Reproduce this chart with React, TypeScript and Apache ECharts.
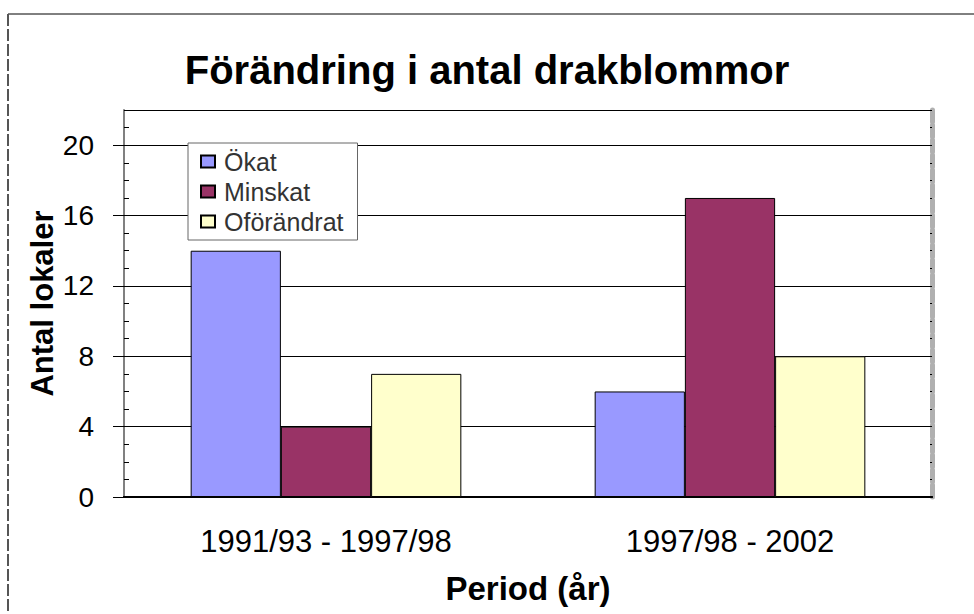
import React, { useEffect, useRef } from "react";
import * as echarts from "echarts";

const categories = ["1991/93 - 1997/98", "1997/98 - 2002"];
const seriesNames = ["Ökat", "Minskat", "Oförändrat"];
const okat = [14, 6];
const minskat = [4, 17];
const oforandrat = [7, 8];
const seriesColors = ["#9999FF", "#993366", "#FFFFCC"];
const yTicks = [0, 4, 8, 12, 16, 20];

const FONT = "'Liberation Sans', Arial, sans-serif";

export default function App() {
  const ref = useRef<HTMLDivElement>(null);
  useEffect(() => {
    if (!ref.current) return;
    const chart = echarts.init(ref.current, undefined, { renderer: "svg" });
    const values = [okat, minskat, oforandrat];
    const grid = { left: 124, top: 110, width: 808, height: 387 };
    chart.setOption({
      animation: false,
      backgroundColor: "#ffffff",
      textStyle: { fontFamily: FONT },
      title: {
        text: "Förändring i antal drakblommor",
        left: "center",
        top: 45,
        textStyle: { fontFamily: FONT, fontSize: 40, fontWeight: "bold", color: "#000" },
      },
      legend: {
        orient: "vertical",
        left: 188,
        top: 143,
        itemWidth: 14,
        itemHeight: 12,
        itemGap: 5,
        padding: [6, 14, 6, 12],
        borderColor: "#666",
        borderWidth: 1,
        backgroundColor: "#fff",
        icon: "rect",
        textStyle: { fontFamily: FONT, fontSize: 25, color: "#333", padding: [0, 0, 0, 4] },
        data: seriesNames,
      },
      grid,
      xAxis: [
        {
          type: "category",
          data: categories,
          position: "bottom",
          axisLine: { lineStyle: { color: "#000", width: 2 } },
          axisTick: { show: false },
          axisLabel: { fontFamily: FONT, fontSize: 31, color: "#000", margin: 29 },
          name: "Period (år)",
          nameLocation: "middle",
          nameGap: 75,
          nameMoveOverlap: false,
          nameTextStyle: { fontFamily: FONT, fontSize: 33, fontWeight: "bold", color: "#000" },
        },
        {
          type: "category",
          data: categories,
          position: "top",
          axisLine: { lineStyle: { color: "#000", width: 2 } },
          axisTick: { show: false },
          axisLabel: { show: false },
        },
      ],
      yAxis: [
        {
          type: "value",
          position: "left",
          min: yTicks[0],
          max: 22,
          interval: yTicks[1] - yTicks[0],
          axisLine: { show: true, lineStyle: { color: "#808080", width: 2 } },
          axisTick: { show: true, length: 11, lineStyle: { color: "#000", width: 1 } },
          axisLabel: { fontFamily: FONT, fontSize: 28, color: "#000", margin: 30, showMaxLabel: false },
          splitLine: { show: true, lineStyle: { color: "#000", width: 1 } },
          name: "Antal lokaler",
          nameLocation: "middle",
          nameGap: 66,
          nameMoveOverlap: false,
          nameTextStyle: { fontFamily: FONT, fontSize: 31, fontWeight: "bold", color: "#000" },
        },
        {
          type: "value",
          position: "left",
          min: 0,
          max: 22,
          interval: 1,
          axisLine: { show: false },
          axisTick: { show: true, inside: true, length: 5, lineStyle: { color: "#000", width: 1 } },
          axisLabel: { show: false },
          splitLine: { show: false },
        },
        {
          type: "value",
          position: "right",
          min: 0,
          max: 22,
          interval: 1,
          axisLine: { show: true, lineStyle: { color: "#b0b0b0", width: 5, type: [12, 3] } },
          axisTick: { show: true, inside: true, length: 2, lineStyle: { color: "#000", width: 1 } },
          axisLabel: { show: false },
          splitLine: { show: false },
        },
      ],
      series: seriesNames.map((name, i) => ({
        name,
        type: "bar",
        xAxisIndex: 0,
        yAxisIndex: 0,
        data: values[i],
        barGap: "0%",
        barCategoryGap: "33%",
        itemStyle: { color: seriesColors[i], borderColor: "#000", borderWidth: 1 },
      })),
      graphic: [
        {
          type: "line",
          shape: { x1: 8, y1: 14, x2: 974, y2: 14 },
          style: { stroke: "#000", lineWidth: 1 },
        },
        {
          type: "line",
          shape: { x1: 8, y1: 14, x2: 8, y2: 614 },
          style: { stroke: "#555", lineWidth: 2, lineDash: [12, 3] },
        },
      ],
    });
    return () => chart.dispose();
  }, []);
  return (
    <div
      ref={ref}
      style={{ position: "fixed", left: 0, top: 0, width: 974, height: 614 }}
    />
  );
}
